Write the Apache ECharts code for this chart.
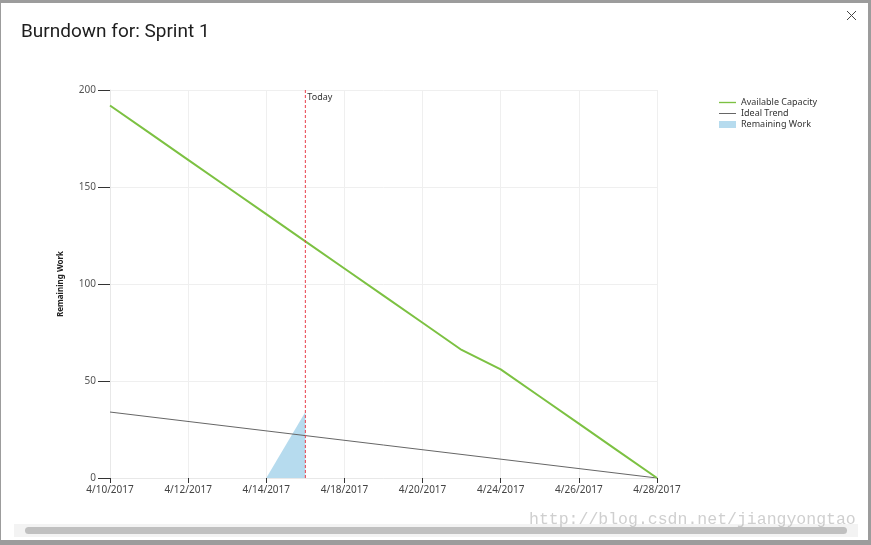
<!DOCTYPE html>
<html>
<head>
<meta charset="utf-8">
<script src="https://cdn.jsdelivr.net/npm/echarts@6/dist/echarts.min.js"></script>
<style>
html,body{margin:0;padding:0;width:871px;height:545px;overflow:hidden;background:#9c9c9c;}
#frame{position:absolute;left:1px;top:3px;width:867px;height:537px;background:#fff;}
#main{position:absolute;left:-1px;top:-3px;width:871px;height:545px;}
</style>
</head>
<body>
<div id="frame"><div id="main"></div></div>
<script>
// ---- data ----
const categories = ['4/10/2017','4/11/2017','4/12/2017','4/13/2017','4/14/2017',
  '4/17/2017','4/18/2017','4/19/2017','4/20/2017','4/21/2017',
  '4/24/2017','4/25/2017','4/26/2017','4/27/2017','4/28/2017'];
const availableCapacity = [192, 178, 164, 150, 136, 122, 108, 94, 80, 66, 56, 42, 28, 14, 0];
const idealTrend = [34, null, null, null, null, null, null, null, null, null, null, null, null, null, 0];
const remainingWork = [null, null, null, null, 0, 34, null, null, null, null, null, null, null, null, null];
const todayCategory = '4/17/2017';
const yTicks = [0, 50, 100, 150, 200];
const titleText = 'Burndown for: Sprint 1';
const watermark = 'http://blog.csdn.net/jiangyongtao';

const yMin = yTicks[0], yMax = yTicks[yTicks.length - 1];
const chart = echarts.init(document.getElementById('main'));
const FONT = 'Noto Sans';
chart.setOption({
  animation: false,
  textStyle: {fontFamily: FONT},
  title: {text: titleText, left: 16, top: 18,
    textStyle: {fontSize: 19, fontWeight: 'normal', color: '#1e1e1e', fontFamily: 'Roboto'}},
  legend: {
    orient: 'vertical', left: 714, top: 93, itemWidth: 17, itemHeight: 7, itemGap: 2, itemTextGap: 3,
    textStyle: {fontSize: 9, color: '#333'},
    data: [
      {name: 'Available Capacity', icon: 'path://M0,0 H20 V1.6 H0 Z'},
      {name: 'Ideal Trend', icon: 'path://M0,0 H20 V1.2 H0 Z'},
      {name: 'Remaining Work', icon: 'rect'}
    ]
  },
  grid: {left: 110, top: 90, right: 214, bottom: 67},
  xAxis: {
    type: 'category', data: categories, boundaryGap: false,
    axisLine: {lineStyle: {color: '#e8e8e8'}},
    axisTick: {interval: 1, length: 5, lineStyle: {color: '#333'}},
    axisLabel: {interval: 1, fontSize: 10, color: '#444', margin: 7},
    splitLine: {show: true, interval: 1, lineStyle: {color: '#efefef'}}
  },
  yAxis: {
    type: 'value', min: yMin, max: yMax, interval: 50,
    name: 'Remaining Work', nameLocation: 'middle', nameGap: 45, nameRotate: 90,
    nameTextStyle: {fontSize: 8, fontWeight: 'bold', color: '#222'},
    axisLine: {show: true, lineStyle: {color: '#e8e8e8'}},
    axisTick: {show: true, length: 12, lineStyle: {color: '#333'}},
    axisLabel: {fontSize: 10, color: '#555', margin: 14},
    splitLine: {lineStyle: {color: '#efefef'}}
  },
  series: [
    {name: 'Remaining Work', type: 'line', data: remainingWork, showSymbol: false,
      itemStyle: {color: '#b6dbee'}, lineStyle: {width: 0}, areaStyle: {color: '#b6dbee', opacity: 1}},
    {name: 'Today', type: 'line', data: [[todayCategory, yMin], [todayCategory, yMax]],
      showSymbol: false, z: 5, silent: true,
      itemStyle: {color: '#e8404c'}, lineStyle: {color: '#e8404c', width: 1, type: [3, 2]}},
    {name: 'Ideal Trend', type: 'line', data: idealTrend, connectNulls: true, showSymbol: false,
      itemStyle: {color: '#666'}, lineStyle: {color: '#666', width: 1}},
    {name: 'Available Capacity', type: 'line', data: availableCapacity, showSymbol: false,
      itemStyle: {color: '#7cc142'}, lineStyle: {color: '#7cc142', width: 2}}
  ]
});

const tx = chart.convertToPixel({xAxisIndex: 0}, todayCategory);
const ty = chart.convertToPixel({yAxisIndex: 0}, yMax);
chart.setOption({
  graphic: [
    {type: 'text', left: tx + 2, top: ty + 3, style: {text: 'Today', fontSize: 9, fill: '#333', fontFamily: FONT}},
    {type: 'line', shape: {x1: 847, y1: 11, x2: 856, y2: 20}, style: {stroke: '#444', lineWidth: 1}},
    {type: 'line', shape: {x1: 856, y1: 11, x2: 847, y2: 20}, style: {stroke: '#444', lineWidth: 1}},
    {type: 'rect', shape: {x: 14, y: 524, width: 844, height: 13}, style: {fill: '#f3f3f3'}},
    {type: 'rect', shape: {x: 25, y: 527, width: 822, height: 7, r: 3.5}, style: {fill: '#c0c0c0'}},
    {type: 'text', left: 529, top: 511, style: {text: watermark, fontSize: 16.5,
      fontFamily: 'Liberation Mono', fill: 'rgba(160,160,160,0.5)'}}
  ]
});
</script>
</body>
</html>
